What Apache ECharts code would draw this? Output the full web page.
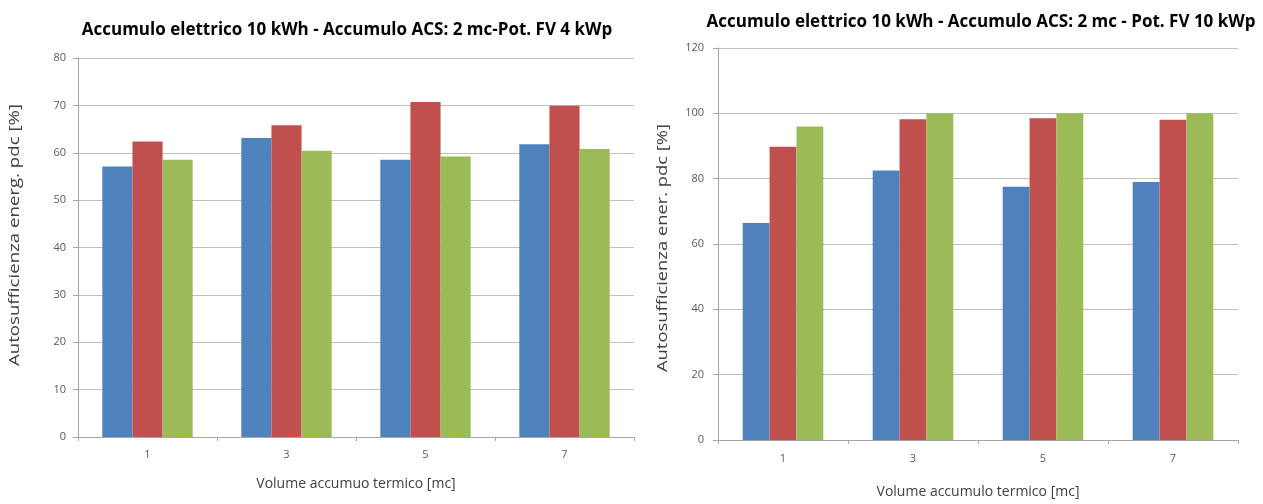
<!DOCTYPE html>
<html>
<head>
<meta charset="utf-8">
<script src="https://cdn.jsdelivr.net/npm/echarts@6/dist/echarts.min.js"></script>
<style>
html,body{margin:0;padding:0;background:#fff;}
#c{width:1263px;height:504px;}
</style>
</head>
<body>
<div id="c"></div>
<script>
const categories = ['1', '3', '5', '7'];
const leftBlue = [57.1, 63.1, 58.5, 61.8];
const leftRed = [62.4, 65.8, 70.7, 69.9];
const leftGreen = [58.5, 60.4, 59.2, 60.8];
const rightBlue = [66.4, 82.5, 77.5, 79.0];
const rightRed = [89.8, 98.2, 98.5, 98.0];
const rightGreen = [96.0, 100, 100, 100];
const leftTitle = 'Accumulo elettrico 10 kWh - Accumulo ACS: 2 mc-Pot. FV 4 kWp';
const rightTitle = 'Accumulo elettrico 10 kWh - Accumulo ACS: 2 mc - Pot. FV 10 kWp';
const leftXName = 'Volume accumuo termico [mc]';
const rightXName = 'Volume accumulo termico [mc]';
const leftYName = 'Autosufficienza energ. pdc [%]';
const rightYName = 'Autosufficienza ener. pdc [%]';

const colors = ['#4F81BD', '#C0504D', '#9BBB59'];
const FONT = 'Open Sans';
const gridLine = '#BFBFBF';
const axisLine = '#A6A6A6';

function measure(text, font) {
  const ctx = document.createElement('canvas').getContext('2d');
  ctx.font = font;
  return ctx.measureText(text).width;
}

function xAxis(gi, name, gap, margin) {
  return {
    type: 'category', gridIndex: gi, data: categories,
    name: name, nameLocation: 'middle', nameGap: gap,
    nameTextStyle: {fontFamily: FONT, fontSize: 14, color: '#404040'},
    axisLine: {lineStyle: {color: axisLine}},
    axisTick: {show: true, length: 4, lineStyle: {color: axisLine}},
    axisLabel: {fontFamily: FONT, fontSize: 11, color: '#595959', margin: margin}
  };
}
function yAxis(gi, max, interval, margin) {
  return {
    type: 'value', gridIndex: gi, min: 0, max: max, interval: interval,
    axisLine: {show: true, lineStyle: {color: axisLine}},
    axisTick: {show: true, length: 5, lineStyle: {color: axisLine}},
    axisLabel: {fontFamily: FONT, fontSize: 11, color: '#595959', margin: margin},
    splitLine: {lineStyle: {color: gridLine}}
  };
}
function bar(gi, data, ci, gap) {
  return {
    type: 'bar', xAxisIndex: gi, yAxisIndex: gi, data: data,
    itemStyle: {color: colors[ci]}, barGap: '0%', barCategoryGap: gap,
    silent: true
  };
}
const nameFont = '14px "Open Sans"';
function yName(text, x, y, len) {
  const s = len / measure(text, nameFont);
  return {
    type: 'text', x: x, y: y, rotation: Math.PI / 2, scaleX: s,
    silent: true,
    style: {text: text, font: nameFont, fill: '#404040', textAlign: 'center', textVerticalAlign: 'middle'}
  };
}

const chart = echarts.init(document.getElementById('c'));
chart.setOption({
  animation: false,
  title: [
    {text: leftTitle, left: 342, top: 17, textAlign: 'center',
     textStyle: {fontFamily: FONT, fontSize: 17, fontWeight: 'bold', color: '#000'}},
    {text: rightTitle, left: 976, top: 9, textAlign: 'center',
     textStyle: {fontFamily: FONT, fontSize: 17, fontWeight: 'bold', color: '#000'}}
  ],
  grid: [
    {left: 78, top: 58, width: 556, height: 379},
    {left: 718, top: 48, width: 520, height: 402}
  ],
  xAxis: [xAxis(0, leftXName, 40, 12), xAxis(1, rightXName, 45, 13)],
  yAxis: [yAxis(0, 80, 10, 12), yAxis(1, 120, 20, 14)],
  graphic: [
    yName(leftYName, 15, 235, 262),
    yName(rightYName, 663, 248, 248)
  ],
  series: [
    bar(0, leftBlue, 0, '35%'), bar(0, leftRed, 1, '35%'), bar(0, leftGreen, 2, '35%'),
    bar(1, rightBlue, 0, '38%'), bar(1, rightRed, 1, '38%'), bar(1, rightGreen, 2, '38%')
  ]
});
</script>
</body>
</html>
